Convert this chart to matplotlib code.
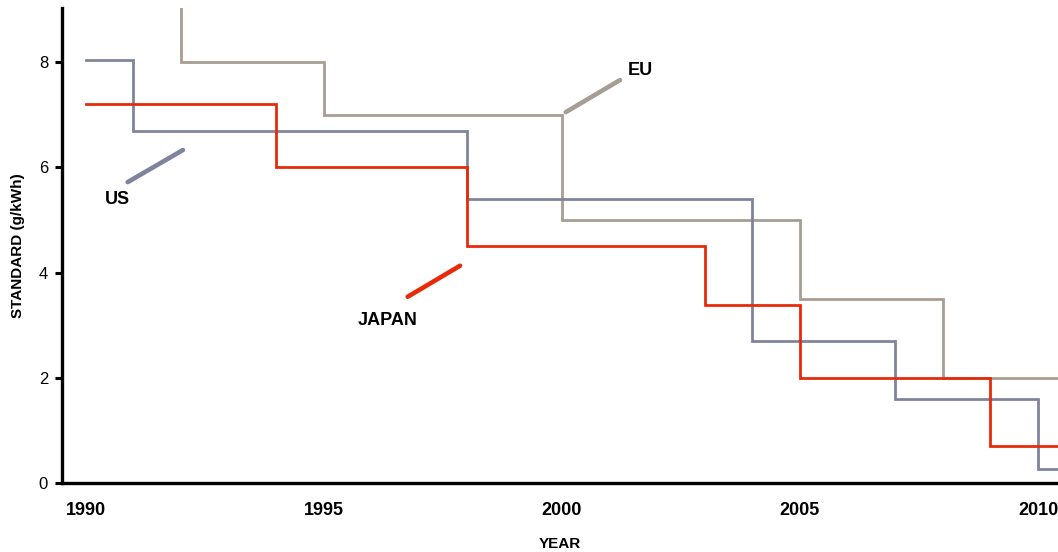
import matplotlib
matplotlib.use("Agg")
import matplotlib.pyplot as plt

# ---- data (g/kWh NOx standards, step changes) ----
us_years = [1990, 1991, 1998, 2004, 2007, 2010, 2011]
us_vals = [8.05, 6.7, 5.4, 2.7, 1.6, 0.27, 0.27]

eu_years = [1992, 1992, 1995, 2000, 2005, 2008, 2011]
eu_vals = [15.8, 8.0, 7.0, 5.0, 3.5, 2.0, 2.0]

jp_years = [1990, 1994, 1998, 2003, 2005, 2009, 2011]
jp_vals = [7.2, 6.0, 4.5, 3.38, 2.0, 0.7, 0.7]

xticks = [1990, 1995, 2000, 2005, 2010]
yticks = [0, 2, 4, 6, 8]

US_C = "#7e849b"
EU_C = "#a89d93"
JP_C = "#e62a0a"

plt.rcParams['font.family'] = ['Liberation Sans', 'DejaVu Sans']

fig = plt.figure(figsize=(10.58, 5.52), dpi=100)
ax = fig.add_axes([62 / 1058, 69 / 552, 1 - 62 / 1058, (483 - 8) / 552])

lw = 2.0
ax.step(eu_years, eu_vals, where='post', color=EU_C, lw=lw, zorder=2, solid_joinstyle='miter')
ax.step(us_years, us_vals, where='post', color=US_C, lw=lw, zorder=3, solid_joinstyle='miter')
ax.step(jp_years, jp_vals, where='post', color=JP_C, lw=lw, zorder=4, solid_joinstyle='miter')

ax.set_xlim(1989.5, 2010.42)
ax.set_ylim(0, 9.03)

# labels with leader lines
ax.plot([1990.88, 1992.04], [5.72, 6.33], color=US_C, lw=3.3, solid_capstyle='round')
ax.text(1990.67, 5.38, "US", ha='center', va='center', fontsize=13, fontweight='bold')
ax.plot([2000.08, 2001.22], [7.05, 7.66], color=EU_C, lw=3.3, solid_capstyle='round')
ax.text(2001.64, 7.85, "EU", ha='center', va='center', fontsize=13, fontweight='bold')
ax.plot([1996.76, 1997.86], [3.54, 4.13], color=JP_C, lw=3.3, solid_capstyle='round')
ax.text(1996.34, 3.08, "JAPAN", ha='center', va='center', fontsize=13, fontweight='bold')

for s in ['top', 'right']:
    ax.spines[s].set_visible(False)
for s in ['left', 'bottom']:
    ax.spines[s].set_linewidth(2.4)

ax.set_xticks(xticks)
ax.set_xticklabels([str(x) for x in xticks], fontweight='bold')
ax.set_yticks(yticks)
ax.tick_params(axis='x', length=0, pad=14, labelsize=13)
ax.tick_params(axis='y', length=5, width=2.2, pad=5, labelsize=12)

ax.set_xlabel("YEAR", fontsize=11, fontweight='bold', labelpad=13)
ax.set_ylabel("STANDARD (g/kWh)", fontsize=11, fontweight='bold', labelpad=10)

fig.savefig("out.png", dpi=100)
